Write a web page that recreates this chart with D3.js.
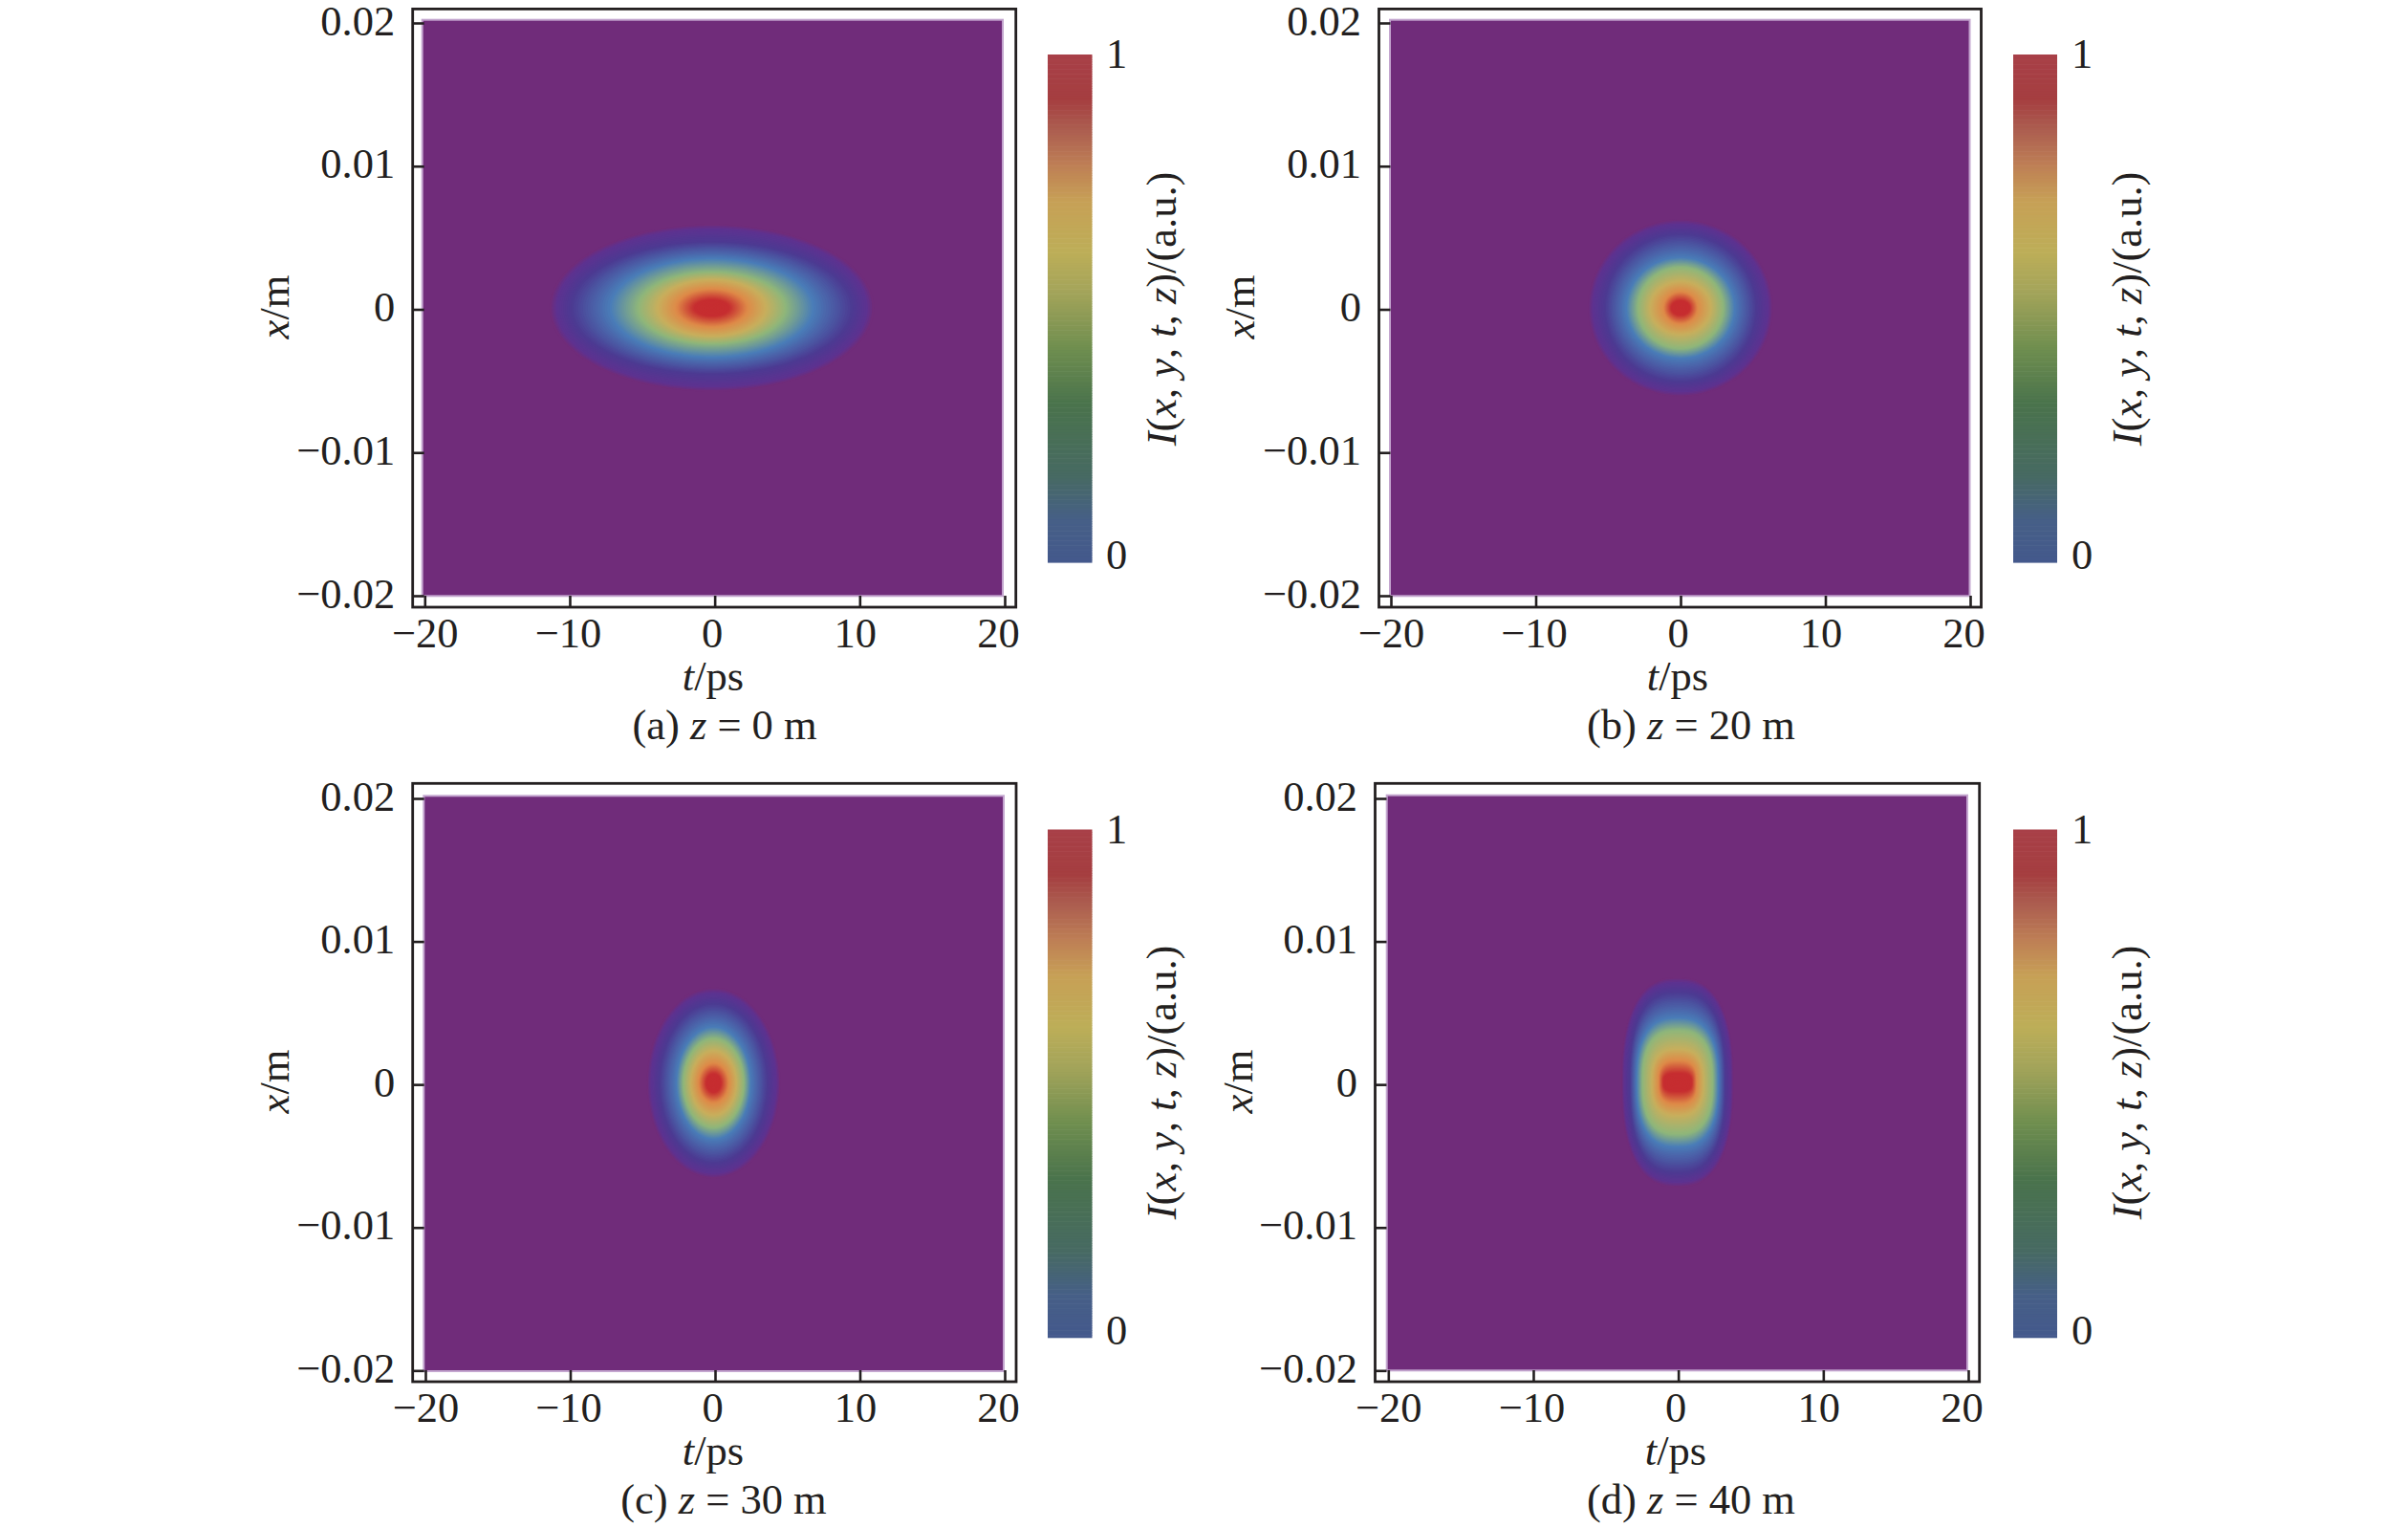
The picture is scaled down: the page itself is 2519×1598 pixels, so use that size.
<!DOCTYPE html>
<html>
<head>
<meta charset="utf-8">
<script src="https://cdn.jsdelivr.net/npm/d3@7"></script>
<style>
html,body{margin:0;padding:0;background:#fff;}
svg{display:block;}
text{font-family:"Liberation Serif","DejaVu Serif",serif;fill:#231f20;}
</style>
</head>
<body>
<div id="chart"></div>
<script>
// ---- data ----
const tTicks = [-20, -10, 0, 10, 20];
const tTickLabels = ["\u221220", "\u221210", "0", "10", "20"];
const xTicks = [0.02, 0.01, 0, -0.01, -0.02];
const xTickLabels = ["0.02", "0.01", "0", "\u22120.01", "\u22120.02"];
const barTicks = [0, 1];

// intensity level of each ring that can be told apart by colour
const levels = [0, 0.03, 0.12, 0.30, 0.45, 0.60, 0.75, 0.92, 1];
const levelColors = ["#702c7a", "#5e3290", "#4c3a92", "#4a7db8", "#8fb67a", "#c8ae5c", "#de8a48", "#c62d30", "#c62d30"];

// half width of each ring along t (ps) and along x (m)
const ringT_a = [11.20, 10.80, 9.76, 7.05, 5.14, 3.76, 2.50, 1.25, 0];
const ringX_a = [0.00585, 0.00558, 0.00465, 0.00347, 0.00254, 0.00200, 0.00134, 0.00060, 0];
const ringT_b = [6.40, 6.12, 5.27, 3.76, 2.97, 2.11, 1.19, 0.66, 0];
const ringX_b = [0.00620, 0.00592, 0.00521, 0.00354, 0.00287, 0.00187, 0.00114, 0.00053, 0];
const ringT_c = [4.62, 4.38, 3.76, 2.57, 2.11, 1.58, 1.05, 0.53, 0];
const ringX_c = [0.00668, 0.00638, 0.00561, 0.00394, 0.00314, 0.00227, 0.00140, 0.00067, 0];
const ringT_d = [3.88, 3.72, 3.30, 2.83, 2.44, 1.78, 1.32, 0.99, 0];
const ringX_d = [0.00735, 0.00705, 0.00634, 0.00454, 0.00367, 0.00234, 0.00154, 0.00067, 0];
// squareness of each ring (2 = ellipse)
const ringPow_a = [2, 2, 2, 2, 2, 2, 2, 2, 2];
const ringPow_b = [2, 2, 2, 2, 2, 2, 2, 2, 2];
const ringPow_c = [2, 2, 2, 2, 2, 2, 2, 2, 2];
const ringPow_d = [2.5, 2.5, 2.6, 2.6, 2.6, 2.6, 2.8, 3, 3];
// peak position (t, x)
const peak_a = [-0.2, 0.0001];
const peak_b = [0, 0.0001];
const peak_c = [-0.1, 0.0001];
const peak_d = [-0.05, 0.00015];

// colour bar, value then colour
const barStops = [0, 0.08, 0.17, 0.31, 0.42, 0.53, 0.61, 0.71, 0.78, 0.85, 0.91, 1];
const barColors = ["#44598c", "#465f87", "#476a62", "#4a734c", "#6f8e4f", "#a3a45a", "#bdae58", "#c7a056", "#be7f55", "#ac5e50", "#a53e40", "#a84048"];

// ---- layout ----
const panels = [
  {cap:[["(a) "],["z",1],[" = 0 m"]], T:ringT_a, X:ringX_a, P:ringPow_a, peak:peak_a,
   frame:[431.7,1062.7,9.4,635], tR:[444.3,1051], xR:[24,623], ras:[441.7,1049,20.7,623.3],
   bar:[1096,1142.5,57,588], barLab:1168, barTitle:[1230,323], yTitle:[302,321], tTitle:746, capX:758},
  {cap:[["(b) "],["z",1],[" = 20 m"]], T:ringT_b, X:ringX_b, P:ringPow_b, peak:peak_b,
   frame:[1442.5,2072.5,9.4,635], tR:[1455,2061], xR:[24,623], ras:[1454,2060.5,20.7,623.3],
   bar:[2106,2152,57,588], barLab:2178, barTitle:[2240,323], yTitle:[1312,321], tTitle:1755, capX:1769},
  {cap:[["(c) "],["z",1],[" = 30 m"]], T:ringT_c, X:ringX_c, P:ringPow_c, peak:peak_c,
   frame:[431.7,1063,819.3,1445], tR:[445,1051], xR:[835,1433.3], ras:[443.3,1050,832.3,1434],
   bar:[1096,1142.5,867.5,1398.7], barLab:1168, barTitle:[1230,1132], yTitle:[302,1131], tTitle:746, capX:757},
  {cap:[["(d) "],["z",1],[" = 40 m"]], T:ringT_d, X:ringX_d, P:ringPow_d, peak:peak_d,
   frame:[1438.5,2070.7,819.3,1445], tR:[1452.3,2059], xR:[835,1433.3], ras:[1450.7,2058,831.7,1433.3],
   bar:[2106,2152,867.5,1398.7], barLab:2178, barTitle:[2240,1132], yTitle:[1310,1131], tTitle:1753, capX:1769}
];
const labelShift = [0, -2, -3, -5, -7];
const FS = 44.5;
const ink = "#231f20";

const svg = d3.select("#chart").append("svg").attr("width", 2519).attr("height", 1598)
  .attr("viewBox", "0 0 2519 1598");
svg.append("rect").attr("width", 2519).attr("height", 1598).attr("fill", "#fff");

function rich(sel, parts) {
  parts.forEach(p => sel.append("tspan").text(p[0]).attr("font-style", p[1] ? "italic" : "normal"));
  return sel;
}

const fieldColor = d3.scaleLinear().domain(levels).range(levelColors);
const barColor = d3.scaleLinear().domain(barStops).range(barColors);
const shades = d3.range(0, 0.995, 1 / 90);
const angles = d3.range(0, 2 * Math.PI + 0.001, Math.PI / 72);

panels.forEach(p => {
  const g = svg.append("g");
  const tScale = d3.scaleLinear().domain([-20, 20]).range(p.tR);
  const xScale = d3.scaleLinear().domain([0.02, -0.02]).range(p.xR);
  const [fL, fR, fT, fB] = p.frame;
  const [rL, rR, rT, rB] = p.ras;

  // field background with its soft edge
  g.append("rect").attr("x", rL).attr("y", rT).attr("width", rR - rL).attr("height", rB - rT)
    .attr("fill", levelColors[0]).attr("stroke", "#c4a6cf").attr("stroke-width", 2);

  // rings
  const semiT = d3.scaleLinear().domain(levels).range(p.T);
  const semiX = d3.scaleLinear().domain(levels).range(p.X);
  const pow = d3.scaleLinear().domain(levels).range(p.P);
  const ring = d3.line().curve(d3.curveLinearClosed)
    .x(d => d.t).y(d => d.x);
  g.append("g").selectAll("path").data(shades).join("path")
    .attr("d", lv => {
      const a = semiT(lv), b = semiX(lv), n = pow(lv);
      return ring(angles.map(th => {
        const c = Math.cos(th), s = Math.sin(th);
        return {
          t: tScale(p.peak[0] + a * Math.sign(c) * Math.pow(Math.abs(c), 2 / n)),
          x: xScale(p.peak[1] + b * Math.sign(s) * Math.pow(Math.abs(s), 2 / n))
        };
      }));
    })
    .attr("fill", lv => fieldColor(lv));

  // axes
  const axB = d3.axisBottom(tScale).tickValues(tTicks).tickSizeInner(-12).tickSizeOuter(0)
    .tickFormat((d, i) => tTickLabels[i]);
  const axL = d3.axisLeft(xScale).tickValues(xTicks).tickSizeInner(-12).tickSizeOuter(0)
    .tickFormat((d, i) => xTickLabels[i]);
  const gB = g.append("g").attr("transform", `translate(0,${fB})`).call(axB);
  const gL = g.append("g").attr("transform", `translate(${fL},0)`).call(axL);
  [gB, gL].forEach(a => {
    a.select(".domain").remove();
    a.selectAll(".tick line").attr("stroke", ink).attr("stroke-width", 2.6);
    a.selectAll(".tick text").attr("font-size", FS).attr("fill", ink)
      .style("font-family", '"Liberation Serif",serif');
  });
  gB.selectAll(".tick text").attr("text-anchor", "middle")
    .attr("y", 41.7).attr("dy", 0)
    .attr("x", (d, i) => labelShift[i]);
  gL.selectAll(".tick text").attr("text-anchor", "end")
    .attr("x", -18.5).attr("dy", 0).attr("y", 12);

  // frame
  g.append("rect").attr("x", fL).attr("y", fT).attr("width", fR - fL).attr("height", fB - fT)
    .attr("fill", "none").attr("stroke", ink).attr("stroke-width", 2.8);

  // axis titles and caption
  rich(g.append("text").attr("x", p.tTitle).attr("y", fB + 86.7).attr("text-anchor", "middle")
    .attr("font-size", FS), [["t", 1], ["/ps"]]);
  rich(g.append("text").attr("x", p.capX).attr("y", fB + 138).attr("text-anchor", "middle")
    .attr("font-size", FS), p.cap);
  rich(g.append("text").attr("transform", `translate(${p.yTitle[0]},${p.yTitle[1]}) rotate(-90)`)
    .attr("text-anchor", "middle").attr("font-size", FS), [["x", 1], ["/m"]]);

  // colour bar
  const [bL, bR, bT, bB] = p.bar;
  const bScale = d3.scaleLinear().domain([0, 1]).range([bB, bT]);
  const cells = d3.range(0, 1, 1 / 210);
  g.append("g").selectAll("rect").data(cells).join("rect")
    .attr("x", bL).attr("width", bR - bL)
    .attr("y", d => bScale(d + 1 / 210))
    .attr("height", d => bScale(d) - bScale(d + 1 / 210) + 0.6)
    .attr("fill", d => barColor(d));
  g.append("g").selectAll("text").data(barTicks).join("text")
    .attr("x", p.barLab).attr("y", d => bScale(d) + (d ? 14 : 7))
    .attr("text-anchor", "middle").attr("font-size", FS).text(d => d);
  rich(g.append("text").attr("transform", `translate(${p.barTitle[0]},${p.barTitle[1]}) rotate(-90)`)
    .attr("text-anchor", "middle").attr("font-size", FS),
    [["I", 1], ["("], ["x", 1], [", "], ["y", 1], [", "], ["t", 1], [", "], ["z", 1], [")/(a.u.)"]]);
});
</script>
</body>
</html>
